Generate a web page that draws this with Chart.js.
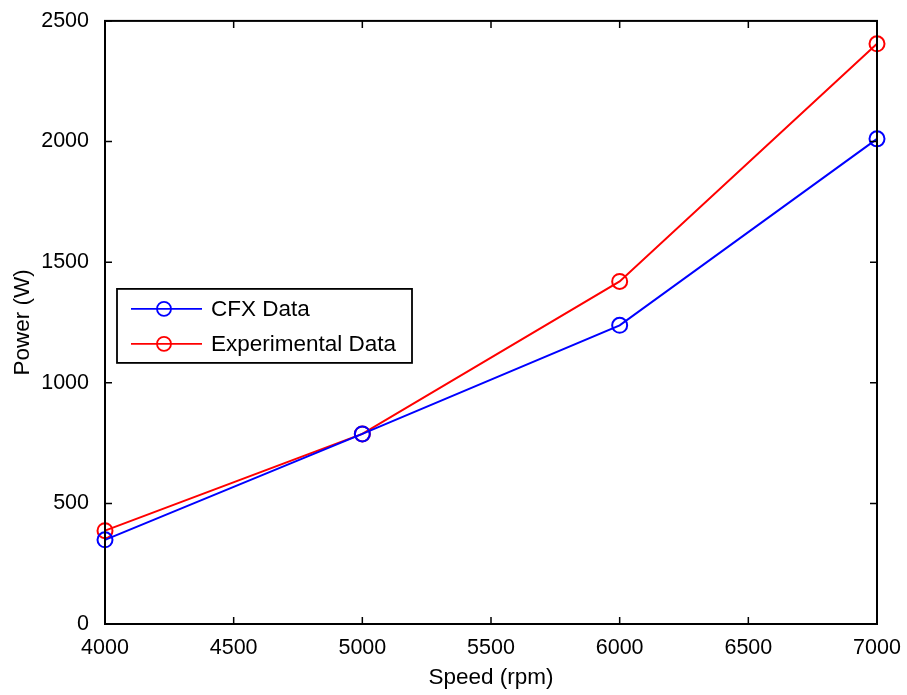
<!DOCTYPE html>
<html>
<head>
<meta charset="utf-8">
<script src="https://cdn.jsdelivr.net/npm/chart.js@4"></script>
<style>
  html, body { margin: 0; padding: 0; background: #fff; }
  #wrap { width: 907px; height: 695px; }
</style>
</head>
<body>
<div id="wrap"><canvas id="myChart" width="907" height="695"></canvas></div>
<script>
// data
const speeds = [4000, 5000, 6000, 7000];
const cfxPower = [349, 788, 1238, 2011];
const expPower = [387, 788, 1420, 2405];
const seriesNames = ['CFX Data', 'Experimental Data'];

const FONT = '"Liberation Sans", Arial, sans-serif';

// box around plot + inward ticks on all sides, like matlab
const boxPlugin = {
  id: 'box',
  afterDraw(chart) {
    const ctx = chart.ctx;
    const a = chart.chartArea;
    const xs = chart.scales.x, ys = chart.scales.y;
    ctx.save();
    ctx.strokeStyle = '#000';
    ctx.lineWidth = 2;
    ctx.strokeRect(a.left, a.top, a.right - a.left, a.bottom - a.top);
    ctx.lineWidth = 1.5;
    ctx.beginPath();
    xs.ticks.forEach(t => {
      const px = xs.getPixelForValue(t.value);
      ctx.moveTo(px, a.bottom); ctx.lineTo(px, a.bottom - 7);
      ctx.moveTo(px, a.top); ctx.lineTo(px, a.top + 7);
    });
    ys.ticks.forEach(t => {
      const py = ys.getPixelForValue(t.value);
      ctx.moveTo(a.left, py); ctx.lineTo(a.left + 7, py);
      ctx.moveTo(a.right, py); ctx.lineTo(a.right - 7, py);
    });
    ctx.stroke();

    // legend box
    const lx = a.left + 12, ly = a.top + 268, lw = 295, lh = 74;
    ctx.fillStyle = '#fff';
    ctx.fillRect(lx, ly, lw, lh);
    ctx.lineWidth = 1.8;
    ctx.strokeRect(lx, ly, lw, lh);
    chart.data.datasets.forEach((ds, i) => {
      const yy = ly + 20 + i * 35;
      ctx.strokeStyle = ds.borderColor;
      ctx.lineWidth = 1.8;
      ctx.beginPath();
      ctx.moveTo(lx + 14, yy); ctx.lineTo(lx + 85, yy);
      ctx.stroke();
      ctx.beginPath();
      ctx.arc(lx + 47, yy, 7, 0, Math.PI * 2);
      ctx.stroke();
      ctx.fillStyle = '#000';
      ctx.font = '22.5px ' + FONT;
      ctx.textBaseline = 'middle';
      ctx.textAlign = 'left';
      ctx.fillText(ds.label, lx + 94, yy + 1);
    });
    ctx.restore();
  }
};

const plain = v => String(v);

const data = {
  datasets: [{
    label: seriesNames[0],
    data: speeds.map((s, i) => ({x: s, y: cfxPower[i]})),
    borderColor: 'rgb(0, 0, 255)',
    backgroundColor: 'rgba(0,0,0,0)',
    pointBorderColor: 'rgb(0, 0, 255)',
  }, {
    label: seriesNames[1],
    data: speeds.map((s, i) => ({x: s, y: expPower[i]})),
    borderColor: 'rgb(255, 0, 0)',
    backgroundColor: 'rgba(0,0,0,0)',
    pointBorderColor: 'rgb(255, 0, 0)',
  }]
};

const config = {
  type: 'line',
  data: data,
  options: {
    responsive: false,
    animation: false,
    clip: false,
    layout: { padding: { top: 17, right: 30, left: 0, bottom: 0 } },
    elements: {
      line: { borderWidth: 2, tension: 0 },
      point: { radius: 7.5, borderWidth: 2, pointStyle: 'circle', backgroundColor: 'rgba(0,0,0,0)' }
    },
    plugins: { legend: { display: false }, tooltip: { enabled: false } },
    scales: {
      x: {
        type: 'linear',
        min: 4000, max: 7000,
        ticks: { stepSize: 500, callback: plain, color: '#000', font: { family: FONT, size: 21.5 }, padding: 3 },
        grid: { display: false },
        border: { display: false },
        title: { display: true, text: 'Speed (rpm)', color: '#000', font: { family: FONT, size: 22.5 }, padding: { top: 0 } },
        afterFit(s) { s.height = 71; }
      },
      y: {
        min: 0, max: 2500,
        ticks: { stepSize: 500, callback: plain, color: '#000', font: { family: FONT, size: 21.5 }, padding: 8 },
        grid: { display: false },
        border: { display: false },
        title: { display: true, text: 'Power (W)', color: '#000', font: { family: FONT, size: 22.5 }, padding: { top: 9, bottom: 0 } },
        afterFit(s) { s.width = 105; }
      }
    }
  },
  plugins: [boxPlugin]
};

const myChart = new Chart(document.getElementById('myChart'), config);
</script>
</body>
</html>
